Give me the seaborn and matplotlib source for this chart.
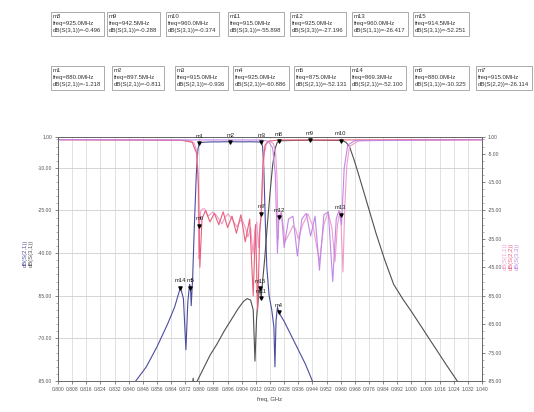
import matplotlib

matplotlib.use("Agg")

import matplotlib.pyplot as plt
import matplotlib.ticker as mticker
import numpy as np
import pandas as pd
import seaborn as sns

# ---- trace data (frequency in MHz, level in dB) ----
s21_freq = [800, 840, 844, 850, 856, 862, 866, 869.3, 871, 872.4, 873.5, 874.5, 875.0, 875.4, 876.2,
            877.2, 878.3, 879.2, 880.0, 882, 885, 888, 891, 894, 897.5, 901, 905, 909, 912, 913.5,
            915.0, 915.8, 916.5, 917.3, 918.2, 919.5, 921, 922.2, 922.8, 923.4, 924.2, 925.0, 928,
            932, 936, 940, 944, 950, 1040]
s21_db = [-100, -90, -85, -80, -73, -65, -59, -52.1, -56, -74, -57, -51, -52.1, -58.5, -49,
          -30, -12, -3.5, -1.218, -1.0, -0.9, -0.85, -0.88, -0.82, -0.811, -0.83, -0.85, -0.82, -0.86, -0.9,
          -0.936, -2.5, -10, -28, -45, -55, -60, -66, -80, -64, -59, -60.886, -64,
          -69, -74, -79, -85, -92, -110]

s31_freq = [800, 874, 876.5, 877.2, 878, 882, 886, 890, 894, 898, 902, 905, 907, 909, 910.5, 911.5,
            912.4, 913.5, 914.5, 915.0, 915.8, 917, 918.5, 920, 921.5, 923, 924, 925.0, 928, 932, 936,
            940, 942.5, 946, 950, 954, 957, 960.0, 961.5, 963, 965, 967.5, 970, 975, 980, 985, 990,
            995, 1000, 1010, 1020, 1026, 1040]
s31_db = [-110, -100, -84, -89, -86, -81, -76, -72, -67.5, -63.5, -59.5, -57, -56, -56.5, -60, -78,
          -63, -55, -52.251, -55.898, -50, -42, -30, -19, -9, -3, -1.2, -0.496, -0.42, -0.36, -0.32,
          -0.3, -0.288, -0.3, -0.31, -0.33, -0.35, -0.374, -0.6, -1.0, -2.5, -7, -12, -22.5, -33, -42.5, -51,
          -56, -60.5, -70, -79.5, -85, -100]

s11_freq = [800, 860, 870, 875, 877, 878.5, 879.3, 879.7, 880.0, 880.8, 882, 883.2, 885, 887.7, 890,
            892.8, 894.5, 896.2, 898.5, 901.3, 902.8, 904.1, 906, 907.5, 909, 910.4, 911.5, 912.5, 913.5,
            914.3, 915.0, 915.8, 916.8, 918, 920, 922, 923.2, 924, 924.6, 925.0, 926.5, 928.5, 931, 933,
            934.5, 936, 938.5, 941.5, 944.5, 948, 950.5, 952.8, 955, 956.8, 958.2, 959.6, 960.0, 961.3,
            962.3, 963.5, 965, 970, 1000, 1040]
s11_db = [-0.1, -0.2, -0.3, -0.5, -1.2, -4, -12, -42, -30.325, -25, -24.4, -24.5, -27, -25.5, -27,
          -29.7, -27.5, -26.2, -28, -30.8, -29, -28, -31, -34.3, -31, -40.3, -32, -29, -38,
          -30, -27.5, -14, -5, -1.5, -0.6, -1.5, -5, -14, -35, -27.0, -25.5, -36, -33, -30.4,
          -31.5, -35, -30, -26.2, -31, -43, -30, -25.5, -31, -43, -30, -25.2, -26.417, -46.6,
          -24, -9, -2.5, -0.5, -0.2, -0.1]

s22_freq = [800, 870, 876, 878.5, 879.5, 880.3, 881.5, 883.5, 886, 888.5, 891, 893.5, 896, 898.5, 901,
            903.5, 906, 908.5, 910.5, 911.8, 913, 914.2, 915.0, 916, 917.2, 919, 925, 1040]
s22_db = [-0.1, -0.3, -1, -5, -16, -45, -28, -25, -29, -26, -30, -25.5, -31, -27, -33,
          -26.5, -36, -28, -55, -30, -60, -33, -26.114, -8, -2, -0.6, -0.2, -0.1]

s33_freq = [800, 915, 919, 921.5, 923, 924.2, 925.0, 926.5, 928, 930.5, 933, 935.5, 938, 940.5, 943,
            945.5, 948, 950.5, 953, 955.5, 957.5, 959, 960.5, 962, 964, 968, 1040]
s33_db = [-0.1, -0.2, -0.6, -3, -12, -40, -27.196, -26, -38, -28, -27, -41, -28, -26, -34,
          -27, -46, -26.5, -25.5, -50, -28, -25, -30, -10, -2, -0.4, -0.1]

# ---- markers ----
marker_names = ["m1", "m2", "m3", "m4", "m5", "m6", "m7", "m8", "m9", "m10", "m11", "m12", "m13", "m14", "m15"]
marker_freq = [880.0, 897.5, 915.0, 925.0, 875.0, 880.0, 915.0, 925.0, 942.5, 960.0, 915.0, 925.0, 960.0, 869.3, 914.5]
marker_trace = ["dB(S(2,1))", "dB(S(2,1))", "dB(S(2,1))", "dB(S(2,1))", "dB(S(2,1))", "dB(S(1,1))",
                "dB(S(2,2))", "dB(S(3,1))", "dB(S(3,1))", "dB(S(3,1))", "dB(S(3,1))", "dB(S(3,3))",
                "dB(S(1,1))", "dB(S(2,1))", "dB(S(3,1))"]
marker_value = [-1.218, -0.811, -0.936, -60.886, -52.131, -30.325, -26.114, -0.496, -0.288, -0.374,
                -55.898, -27.196, -26.417, -52.100, -52.251]

box_row1 = ["m8", "m9", "m10", "m11", "m12", "m13", "m15"]
box_row2 = ["m1", "m2", "m3", "m4", "m5", "m14", "m6", "m7"]

x_ticks_ghz = [0.800, 0.808, 0.816, 0.824, 0.832, 0.840, 0.848, 0.856, 0.864, 0.872, 0.880, 0.888, 0.896,
               0.904, 0.912, 0.920, 0.928, 0.936, 0.944, 0.952, 0.960, 0.968, 0.976, 0.984, 0.992, 1.000,
               1.008, 1.016, 1.024, 1.032, 1.040]
left_ticks = [1, -10, -25, -40, -55, -70, -85]
right_ticks = [1, -5, -15, -25, -35, -45, -55, -65, -75, -85]

colors = {
    "dB(S(2,1))": "#4c4c9e",
    "dB(S(3,1))": "#505050",
    "dB(S(1,1))": "#f09ccc",
    "dB(S(2,2))": "#e8607a",
    "dB(S(3,3))": "#c088e6",
}


def _frame(name, freq, db):
    return pd.DataFrame({"freq": np.array(freq) / 1000.0, "dB": db, "trace": name})


left_df = pd.concat([_frame("dB(S(2,1))", s21_freq, s21_db), _frame("dB(S(3,1))", s31_freq, s31_db)])
right_df = pd.concat([
    _frame("dB(S(1,1))", s11_freq, s11_db),
    _frame("dB(S(2,2))", s22_freq, s22_db),
    _frame("dB(S(3,3))", s33_freq, s33_db),
])

sns.set_theme(style="white")
plt.rcParams["font.family"] = ["Liberation Sans", "DejaVu Sans"]

W, H = 534, 412
fig = plt.figure(figsize=(W / 100, H / 100), dpi=100)
ax = fig.add_axes([58 / W, 1 - 381 / H, 424 / W, (381 - 136.6) / H])
ax2 = ax.twinx()

for name, group in left_df.groupby("trace", sort=False):
    sns.lineplot(data=group, x="freq", y="dB", ax=ax, color=colors[name], linewidth=0.8,
                 estimator=None, sort=False, legend=False)
for name, group in right_df.groupby("trace", sort=False):
    sns.lineplot(data=group, x="freq", y="dB", ax=ax2, color=colors[name], linewidth=0.8,
                 estimator=None, sort=False, legend=False)

for a in (ax, ax2):
    a.set_xlim(0.800, 1.040)
    a.set_ylim(-85, 1)
    a.set_xlabel("")
    a.set_ylabel("")

ax.set_xticks(x_ticks_ghz)
ax.xaxis.set_major_formatter(mticker.FormatStrFormatter("%.3f"))
ax.set_yticks(left_ticks)
ax.yaxis.set_major_formatter(mticker.FormatStrFormatter("%.2f"))
ax.yaxis.set_minor_locator(mticker.MultipleLocator(2.5))
ax2.set_yticks(right_ticks)
ax2.yaxis.set_major_formatter(mticker.FormatStrFormatter("%.2f"))
ax2.yaxis.set_minor_locator(mticker.MultipleLocator(2.5))

ax.grid(True, axis="x", color="#dcdcdc", linewidth=0.6)
ax.grid(True, axis="y", color="#cfcfcf", linewidth=0.6)
for a in (ax, ax2):
    a.tick_params(axis="both", which="major", labelsize=3.6, length=2.5, width=0.5, pad=1.5,
                  colors="#555555", direction="out")
    a.tick_params(axis="y", which="minor", length=1.5, width=0.4, colors="#777777", left=a is ax,
                  right=a is ax2)
    for spine in a.spines.values():
        spine.set_color("#666666")
        spine.set_linewidth(0.6)
ax.tick_params(axis="x", bottom=True)
ax.set_xlabel("freq, GHz", fontsize=4.2, color="#444444", labelpad=4)

# markers on the traces
for name, f, tr, val in zip(marker_names, marker_freq, marker_trace, marker_value):
    ax2.scatter([f / 1000.0], [val], marker="v", s=5, color="black", zorder=6, clip_on=False)
    ax2.annotate(name, (f / 1000.0, val), xytext=(0, 3), textcoords="offset points", ha="center",
                 va="bottom", fontsize=4.2, color="#222222", annotation_clip=False)

# marker readout boxes
info = {n: (f, tr, v) for n, f, tr, v in zip(marker_names, marker_freq, marker_trace, marker_value)}
row1_x = [51, 107, 166, 228, 290, 352, 413]
row2_x = [51, 112, 175, 233, 294, 350, 413, 476]
for row, xs, top in ((box_row1, row1_x, 14), (box_row2, row2_x, 68)):
    for n, x in zip(row, xs):
        f, tr, v = info[n]
        fig.text((x + 2) / W, 1 - top / H, f"{n}\nfreq={f:.1f}MHz\n{tr}={v:.3f}", fontsize=4.3,
                 color="#333333", ha="left", va="top", linespacing=1.55,
                 bbox=dict(boxstyle="square,pad=0.4", fc="white", ec="#8a8a8a", lw=0.5))

# axis trace labels in trace colours
for i, name in enumerate(["dB(S(2,1))", "dB(S(3,1))"]):
    fig.text((25 + i * 6) / W, 1 - 253 / H, name, rotation=90, fontsize=4.2, color=colors[name],
             ha="center", va="center")
for i, name in enumerate(["dB(S(1,1))", "dB(S(2,2))", "dB(S(3,3))"]):
    fig.text((505 + i * 6) / W, 1 - 256 / H, name, rotation=90, fontsize=4.2, color=colors[name],
             ha="center", va="center")

fig.savefig("out.png", dpi=100)
